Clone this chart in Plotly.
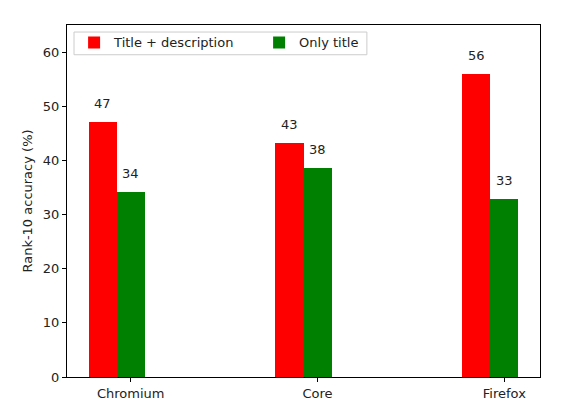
import plotly.graph_objects as go

browsers = ["Chromium", "Core", "Firefox"]
title_desc = [47.0, 43.3, 56.0]
only_title = [34.1, 38.6, 32.9]
title_desc_labels = ["47", "43", "56"]
only_title_labels = ["34", "38", "33"]

bar_w = 0.15
xs = list(range(len(browsers)))
font = dict(family="DejaVu Sans", size=13, color="#222222")

fig = go.Figure()
fig.add_trace(
    go.Bar(
        x=[i - bar_w for i in xs],
        y=title_desc,
        width=bar_w,
        name="Title + description",
        marker=dict(color="#ff0000", line=dict(width=0)),
    )
)
fig.add_trace(
    go.Bar(
        x=xs,
        y=only_title,
        width=bar_w,
        name="Only title",
        marker=dict(color="#008000", line=dict(width=0)),
    )
)

# value labels above the bars
for series, labels, offset in (
    (title_desc, title_desc_labels, -bar_w),
    (only_title, only_title_labels, 0),
):
    for i, v, lab in zip(xs, series, labels):
        fig.add_annotation(
            x=i + offset,
            y=v,
            text=lab,
            showarrow=False,
            yanchor="bottom",
            yshift=9,
            font=font,
        )

# legend frame (plotly would stretch the box over the last entrywidth)
fig.add_shape(
    type="rect",
    xref="paper",
    yref="paper",
    x0=0.0148,
    x1=0.634,
    y0=0.9155,
    y1=0.980,
    line=dict(color="#cccccc", width=1),
    fillcolor="rgba(255,255,255,0.8)",
    layer="above",
)

fig.update_layout(
    width=553,
    height=405,
    margin=dict(l=59, r=21, t=17, b=33),
    paper_bgcolor="white",
    plot_bgcolor="white",
    font=font,
    barmode="overlay",
    bargap=0,
    showlegend=True,
    legend=dict(
        orientation="h",
        x=0.015,
        y=0.993,
        xanchor="left",
        yanchor="top",
        bgcolor="rgba(0,0,0,0)",
        borderwidth=0,
        font=font,
        entrywidth=140,
    ),
)
fig.update_xaxes(
    range=[-0.341, 2.191],
    tickvals=xs,
    ticktext=browsers,
    ticks="outside",
    ticklen=4,
    tickcolor="black",
    showline=True,
    linecolor="black",
    linewidth=1,
    mirror=True,
    showgrid=False,
    zeroline=False,
)
fig.update_yaxes(
    range=[0, 65],
    tickvals=[0, 10, 20, 30, 40, 50, 60],
    ticks="outside",
    ticklen=4,
    tickcolor="black",
    showline=True,
    linecolor="black",
    linewidth=1,
    mirror=True,
    showgrid=False,
    zeroline=False,
    title=dict(text="Rank-10 accuracy (%)", font=font, standoff=7),
)

fig.write_html("out.html")
